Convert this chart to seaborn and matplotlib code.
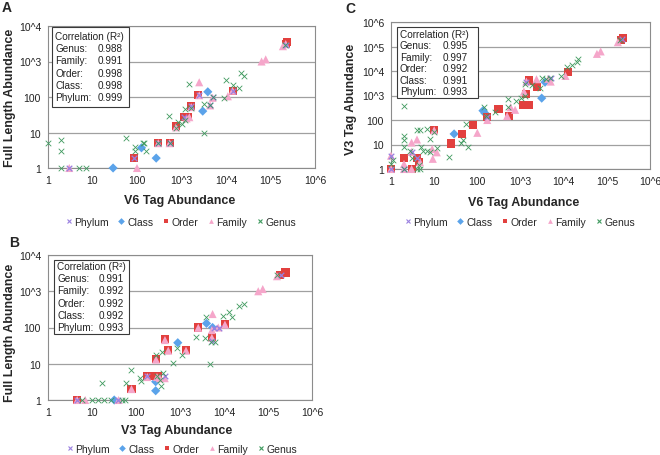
import matplotlib
matplotlib.use("Agg")
import matplotlib.pyplot as plt
import seaborn as sns
import pandas as pd
from matplotlib.patches import Rectangle
from matplotlib.lines import Line2D
from matplotlib.ticker import NullLocator

sns.set_style("white")
plt.rcParams['font.family'] = ['Liberation Sans', 'DejaVu Sans']

# ---------------- data (x, y) ----------------
a_phylum = [(3, 1), (85, 1.9), (300, 5), (540, 5), (1150, 27), (1600, 55), (2500, 115), (5000, 100),
            (4400, 58), (14500, 150), (2.2e5, 3000)]
a_class = [(29, 1), (126, 3.7), (270, 1.9), (3000, 40), (3900, 140), (2.3e5, 3200)]
a_order = [(84, 1.9), (300, 5), (540, 5), (750, 15), (1150, 27), (1400, 27), (1600, 55), (2400, 115),
           (14500, 150), (2.2e5, 3200), (2.4e5, 3500)]
a_family = [(3, 1), (100, 1), (300, 5), (540, 5), (750, 14), (1300, 25), (1500, 27), (1650, 52), (2500, 260),
            (2500, 112), (4400, 58), (5000, 95), (11000, 105), (14000, 150), (63000, 1000), (78000, 1150),
            (1.9e5, 2700), (2.2e5, 3100)]
a_genus = [(1, 5), (2, 6), (2, 3), (2, 1), (5, 1), (7, 1), (58, 7), (90, 3.9), (90, 3), (135, 5), (145, 5),
           (160, 3), (535, 30), (1500, 230), (850, 20), (1000, 17), (1200, 46), (3200, 10), (3200, 63),
           (4400, 60), (10000, 300), (14000, 215), (20000, 175), (22000, 470), (25000, 380), (9000, 92),
           (750, 13), (1200, 22), (2.1e5, 3000), (300, 5), (540, 5), (1600, 50), (5000, 100)]

b_phylum = [(4.6, 1), (40, 1), (180, 4.5), (450, 4.5), (5200, 42), (6000, 100), (7500, 95), (2e5, 2800)]
b_class = [(32, 1), (280, 3.2), (280, 1.8), (890, 38), (4000, 130), (5500, 100)]
b_order = [(4.6, 1), (79, 2), (180, 4.6), (225, 4.6), (320, 4.6), (285, 13.5), (455, 47), (540, 24),
           (1370, 24), (2600, 100), (5300, 56), (10500, 126), (1.9e5, 2800), (2.5e5, 3300)]
b_family = [(4.6, 1), (7, 1), (40, 1), (79, 2), (180, 4.3), (300, 4.3), (350, 4), (450, 4), (285, 13),
            (455, 45), (540, 23), (1370, 23), (2600, 98), (5300, 52), (5300, 85), (5500, 235), (7400, 100),
            (10500, 120), (60000, 1000), (76000, 1150), (1.6e5, 2600)]
b_genus = [(6, 1), (10, 1), (14, 1), (19, 1), (27, 1), (47, 1), (56, 1), (17, 2.9), (59, 2.9), (79, 6.7),
           (123, 4), (130, 3.4), (350, 3.6), (370, 2.4), (420, 5.5), (280, 17), (400, 21), (840, 28),
           (700, 10.6), (1100, 17), (2300, 56), (3700, 50), (4000, 200), (4800, 9.6), (6200, 40),
           (9700, 210), (13000, 275), (15000, 190), (22000, 380), (28000, 450), (1.6e5, 2800), (300, 4.5),
           (5000, 40)]

c_phylum = [(1, 3.5), (3, 5), (4, 2.7), (2, 1), (170, 130), (1370, 3700), (5000, 5000), (2.2e5, 2e5), (1, 1)]
c_class = [(29, 27), (135, 240), (150, 190), (3100, 780), (3700, 3500)]
c_order = [(1, 1), (2, 2.7), (3, 1), (4, 2.7), (4.5, 1.9), (10, 40), (24, 11), (45, 27), (80, 65), (170, 130),
           (310, 270), (550, 150), (1150, 420), (1600, 400), (1350, 1170), (1600, 4100), (2450, 2200),
           (12600, 9100), (2.1e5, 1.9e5), (2.4e5, 2.2e5)]
c_family = [(1, 1), (1, 3.5), (2, 1.6), (3, 5), (3, 12), (4, 16), (4.7, 1.9), (9.3, 2.6), (9, 6.5), (11.5, 4.8),
            (100, 30), (170, 100), (490, 145), (590, 330), (750, 260), (1200, 1450), (1370, 3700),
            (2350, 4600), (4400, 4800), (5000, 3700), (11000, 6300), (59000, 50000), (72000, 63000),
            (1.8e5, 1.5e5), (10, 38), (2, 1), (3, 1)]
c_genus = [(2, 390), (2, 23), (2, 15), (2, 7.7), (2.7, 5.6), (3.9, 40), (4.8, 40), (7, 43), (10, 33), (7.8, 17),
           (5, 8), (5.5, 5.6), (4.7, 1), (4.4, 1.5), (1.1, 2.4), (1, 1.6), (7, 5.6), (7.8, 4.8), (11.7, 7),
           (22, 3), (41, 12), (46, 15), (60, 8), (55, 69), (140, 330), (160, 150), (260, 210), (510, 730),
           (510, 330), (780, 600), (1000, 780), (1250, 1000), (1300, 3000), (1800, 2600), (2800, 2000),
           (3200, 5100), (4000, 4600), (4700, 5100), (8500, 6300), (11800, 14500), (16000, 17000),
           (20000, 24000), (22000, 30000), (2e5, 1.8e5), (3, 2.7), (4, 1), (2, 1)]

series_names = ["Phylum", "Class", "Order", "Family", "Genus"]

a_r2 = ["0.988", "0.991", "0.998", "0.998", "0.999"]
b_r2 = ["0.991", "0.992", "0.992", "0.992", "0.993"]
c_r2 = ["0.995", "0.997", "0.992", "0.991", "0.993"]
r2_labels = ["Genus:", "Family:", "Order:", "Class:", "Phylum:"]

tick_vals = [1, 10, 100, 1e3, 1e4, 1e5, 1e6]
tick_labels = ["1", "10", "100", "10^3", "10^4", "10^5", "10^6"]

# ---------------- styling ----------------
W, H = 660, 456
fig = plt.figure(figsize=(6.6, 4.56), dpi=100)


def fx(x):
    return x / W


def fy(y):
    return 1 - y / H


def make_ax(l, t, r, b):
    return fig.add_axes([fx(l), fy(b), fx(r) - fx(l), fy(t) - fy(b)])


styles = {
    "Phylum": dict(marker="x", color="#9A80E0", s=16, linewidth=0.9, z=6),
    "Class": dict(marker="D", color="#5BA3EA", s=22, linewidth=0, z=3),
    "Order": dict(marker="s", color="#E2403E", s=34, linewidth=0, z=4),
    "Family": dict(marker="^", color="#F5A6CA", s=34, linewidth=0, z=5),
    "Genus": dict(marker="x", color="#3F9A5F", s=16, linewidth=0.6, z=7),
}
draw_order = ["Class", "Order", "Family", "Phylum", "Genus"]
gray = "#8C8C8C"


def draw_panel(ax, data, ymax):
    for name in draw_order:
        pts = data[name]
        df = pd.DataFrame(pts, columns=["x", "y"])
        st = styles[name]
        kw = dict(x="x", y="y", data=df, ax=ax, marker=st["marker"], color=st["color"], s=st["s"],
                  linewidth=st["linewidth"], zorder=st["z"], clip_on=False, legend=False)
        if st["marker"] != "x":
            kw["edgecolor"] = "none"
        sns.scatterplot(**kw)
    ax.set_xscale("log")
    ax.set_yscale("log")
    ax.set_xlim(1, 1e6)
    ax.set_ylim(1, ymax)
    ax.set_xticks(tick_vals, tick_labels)
    yt = [v for v in tick_vals if v <= ymax]
    ax.set_yticks(yt, tick_labels[:len(yt)])
    ax.xaxis.set_minor_locator(NullLocator())
    ax.yaxis.set_minor_locator(NullLocator())
    ax.tick_params(axis="both", direction="out", length=3, width=0.8, color=gray,
                   labelsize=7.5, pad=2, labelcolor="#222222")
    ax.set_xlabel("")
    ax.set_ylabel("")
    ax.yaxis.grid(True, color="#A0A0A0", linewidth=0.9)
    ax.xaxis.grid(False)
    ax.set_axisbelow(True)
    for sp in ax.spines.values():
        sp.set_color(gray)
        sp.set_linewidth(0.8)
        sp.set_visible(True)


def draw_box(l, t, r, b, lx, vx, y0, dy, vals):
    fig.add_artist(Rectangle((fx(l), fy(b)), fx(r) - fx(l), fy(t) - fy(b), transform=fig.transFigure,
                             facecolor="white", edgecolor="#3A3A3A", linewidth=0.8, zorder=10))
    fig.text(fx(lx), fy(y0), "Correlation (R²)", fontsize=7.2, va="center", ha="left", zorder=11,
             color="#222222")
    for i, (lab, v) in enumerate(zip(r2_labels, vals)):
        yy = y0 + dy * (i + 1)
        fig.text(fx(lx), fy(yy), lab, fontsize=7.2, va="center", ha="left", zorder=11, color="#222222")
        fig.text(fx(vx), fy(yy), v, fontsize=7.2, va="center", ha="left", zorder=11, color="#222222")


def legend_at(cx, cy):
    handles = []
    for name in series_names:
        st = styles[name]
        ms = 3.4 if st["marker"] != "x" else 3.5
        handles.append(Line2D([], [], linestyle="none", marker=st["marker"], color=st["color"],
                              markersize=ms, markeredgewidth=0.8 if st["marker"] == "x" else 0))
    fig.legend(handles, series_names, loc="center", bbox_to_anchor=(fx(cx), fy(cy)), ncol=5,
               frameon=False, fontsize=7.5, handletextpad=0.1, columnspacing=0.75, handlelength=0.9,
               borderaxespad=0, borderpad=0)


# Panel A
axA = make_ax(48, 27, 315, 169)
draw_panel(axA, dict(Phylum=a_phylum, Class=a_class, Order=a_order, Family=a_family, Genus=a_genus), 1e4)
draw_box(52, 28, 129, 108, 55, 98, 37, 12.2, a_r2)
fig.text(fx(10), fy(98), "Full Length Abundance", rotation=90, fontsize=9, fontweight="bold",
         ha="center", va="center")
fig.text(fx(180), fy(201), "V6 Tag Abundance", fontsize=9, fontweight="bold", ha="center", va="center")
fig.text(fx(2), fy(8), "A", fontsize=10, fontweight="bold", ha="left", va="center")
legend_at(180, 223)

# Panel B
axB = make_ax(48, 256, 312, 401)
draw_panel(axB, dict(Phylum=b_phylum, Class=b_class, Order=b_order, Family=b_family, Genus=b_genus), 1e4)
draw_box(54, 261, 129, 335, 57, 99, 267, 12.2, b_r2)
fig.text(fx(10), fy(333), "Full Length Abundance", rotation=90, fontsize=9, fontweight="bold",
         ha="center", va="center")
fig.text(fx(177), fy(431), "V3 Tag Abundance", fontsize=9, fontweight="bold", ha="center", va="center")
fig.text(fx(9), fy(243), "B", fontsize=10, fontweight="bold", ha="left", va="center")
legend_at(181, 450)

# Panel C
axC = make_ax(391, 23, 650, 170)
draw_panel(axC, dict(Phylum=c_phylum, Class=c_class, Order=c_order, Family=c_family, Genus=c_genus), 1e6)
draw_box(397, 28, 478, 99, 400, 443, 35, 11.4, c_r2)
fig.text(fx(351), fy(99), "V3 Tag Abundance", rotation=90, fontsize=9, fontweight="bold",
         ha="center", va="center")
fig.text(fx(524), fy(203), "V6 Tag Abundance", fontsize=9, fontweight="bold", ha="center", va="center")
fig.text(fx(345), fy(9), "C", fontsize=10, fontweight="bold", ha="left", va="center")
legend_at(519, 223)

fig.savefig("out.png", dpi=100)
